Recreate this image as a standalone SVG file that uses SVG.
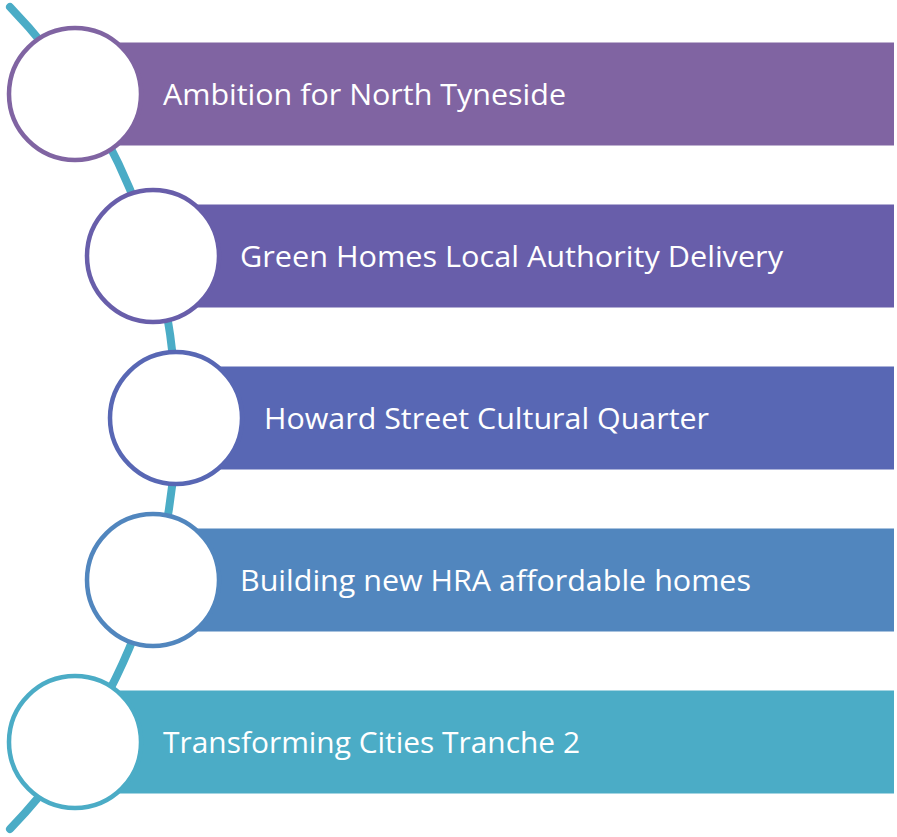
<svg xmlns="http://www.w3.org/2000/svg" width="897" height="837" viewBox="0 0 897 837">
<style>
.lbl{font-family:"Open Sans","Noto Sans","Liberation Sans",sans-serif;font-size:30px;fill:#ffffff}
.ring{fill:#ffffff;stroke-width:4.5}
</style>
<rect width="897" height="837" fill="#ffffff"/>
<g id="connectors">
<path d="M 10 7 A 592 592 0 0 1 10 829" fill="none" stroke="#4BACC6" stroke-width="8" stroke-linecap="round"/>
</g>
<g id="node1">
<rect x="75" y="42.5" width="819" height="103" fill="#8064A2"/>
<circle class="ring" cx="75" cy="94" r="66" stroke="#8064A2"/>
<text class="lbl" x="163" y="105" textLength="403" lengthAdjust="spacingAndGlyphs">Ambition for North Tyneside</text>
</g>
<g id="node2">
<rect x="153" y="204.5" width="741" height="103" fill="#685EAA"/>
<circle class="ring" cx="153" cy="256" r="66" stroke="#685EAA"/>
<text class="lbl" x="240" y="267" textLength="543" lengthAdjust="spacingAndGlyphs">Green Homes Local Authority Delivery</text>
</g>
<g id="node3">
<rect x="176" y="366.5" width="718" height="103" fill="#5867B4"/>
<circle class="ring" cx="176" cy="418" r="66" stroke="#5867B4"/>
<text class="lbl" x="264" y="429" textLength="445" lengthAdjust="spacingAndGlyphs">Howard Street Cultural Quarter</text>
</g>
<g id="node4">
<rect x="153" y="528.5" width="741" height="103" fill="#5186BE"/>
<circle class="ring" cx="153" cy="580" r="66" stroke="#5186BE"/>
<text class="lbl" x="240" y="591" textLength="511" lengthAdjust="spacingAndGlyphs">Building new HRA affordable homes</text>
</g>
<g id="node5">
<rect x="75" y="690.5" width="819" height="103" fill="#4BACC6"/>
<circle class="ring" cx="75" cy="742" r="66" stroke="#4BACC6"/>
<text class="lbl" x="163" y="753" textLength="417" lengthAdjust="spacingAndGlyphs">Transforming Cities Tranche 2</text>
</g>
</svg>
